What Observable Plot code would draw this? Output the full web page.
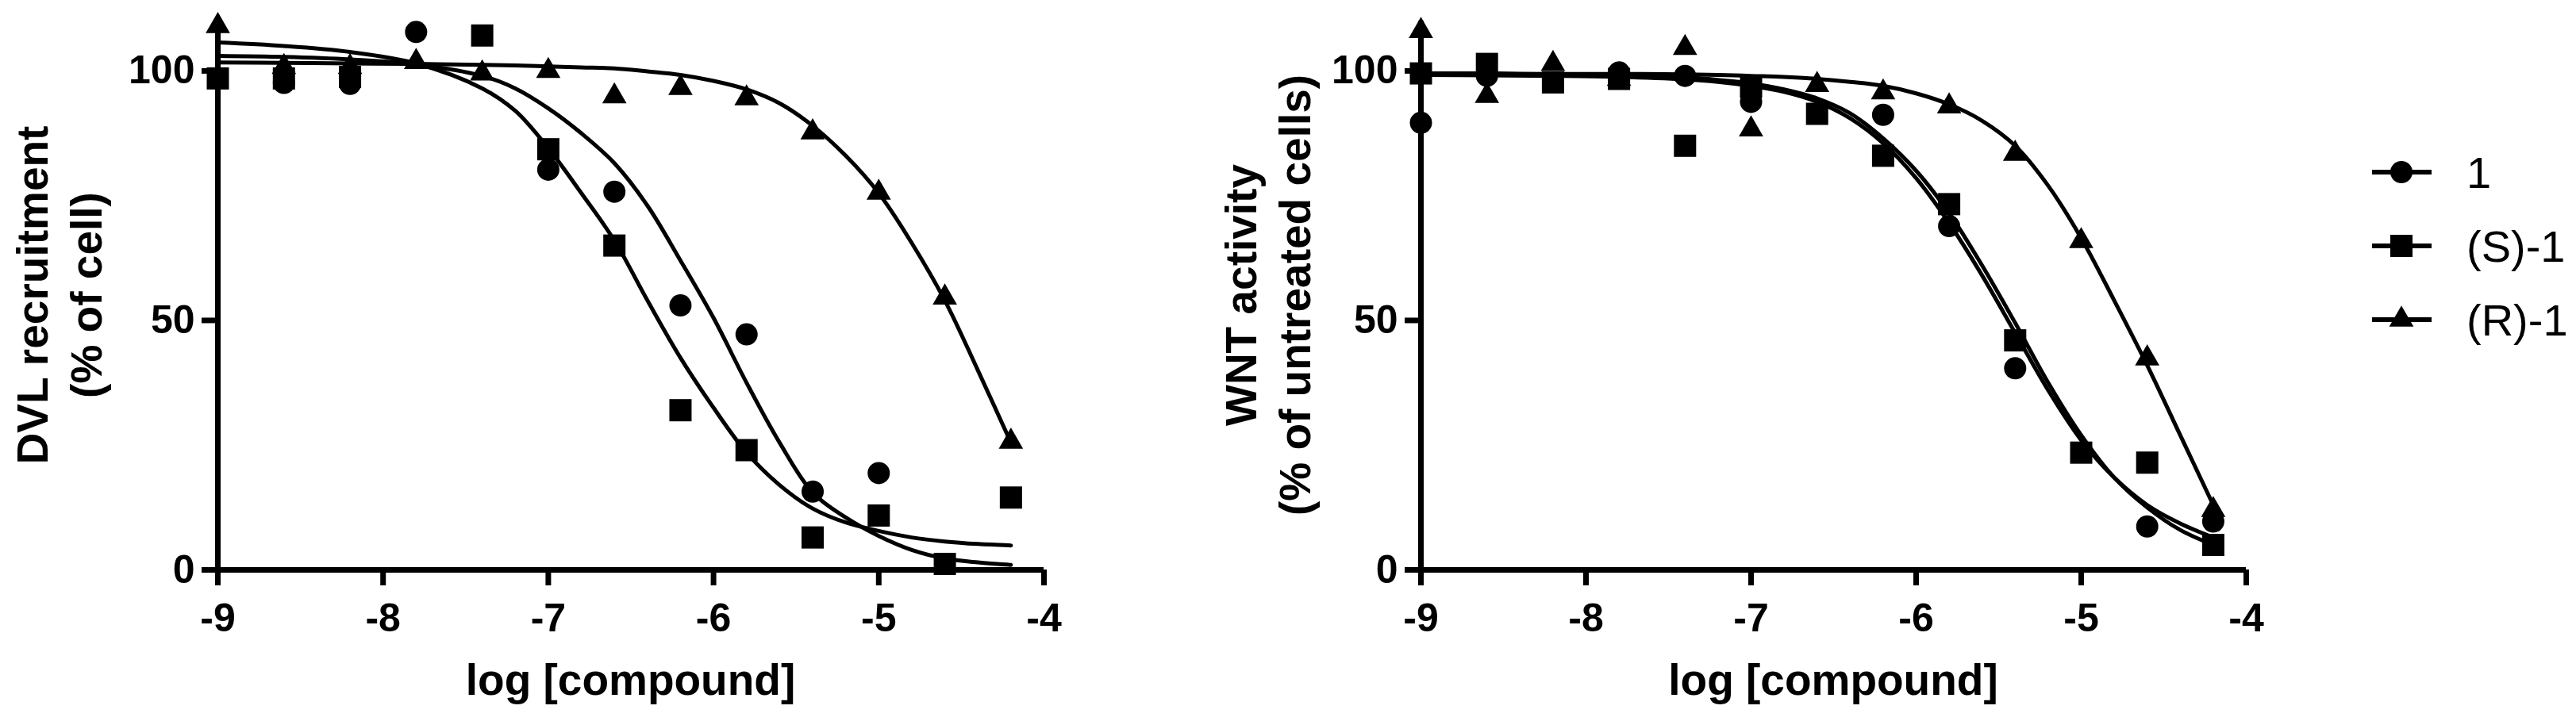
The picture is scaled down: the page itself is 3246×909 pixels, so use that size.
<!DOCTYPE html>
<html><head><meta charset="utf-8">
<script src="https://cdn.jsdelivr.net/npm/d3@7"></script>
<script src="https://cdn.jsdelivr.net/npm/@observablehq/plot@0.6"></script>
<style>
html,body{margin:0;padding:0;background:#fff;}
#root{position:relative;width:3246px;height:909px;overflow:hidden;background:#fff;font-family:"Liberation Sans",Arial,sans-serif;}
#root > svg{position:absolute;top:0;}
#root text{fill:#000;}
</style></head><body><div id="root"></div>
<script>
// ---------- data ----------
const logConc = [-9, -8.6, -8.2, -7.8, -7.4, -7, -6.6, -6.2, -5.8, -5.4, -5, -4.6, -4.2];
const seriesNames = ["1", "(S)-1", "(R)-1"];
const xTicks = [-9, -8, -7, -6, -5, -4];
const yTicks = [0, 50, 100];

// DVL recruitment (% of cell) - measured points (null = hidden / not visible)
const dvl_1  = [null, 97.6, 97.4, 107.8, null, 80.2, 75.8, 53.0, 47.2, 15.7, 19.4, null, null];
const dvl_S1 = [98.5, 98.5, 98.8, null, 107.1, 84.3, 65.0, 32.0, 24.0, 6.5, 10.9, 1.2, 14.5];
const dvl_R1 = [109.0, 100.8, 100.8, 101.8, 99.5, 100.0, 94.9, 96.6, 94.5, 87.7, 75.6, 54.6, 25.7];

// WNT activity (% of untreated cells) - measured points
const wnt_1  = [89.6, 99.0, null, 99.7, 99.0, 93.8, null, 91.2, 68.9, 40.4, null, 8.7, 9.7];
const wnt_S1 = [99.5, 101.4, 97.7, 98.4, 85.0, 96.8, 91.4, 83.0, 73.3, 46.0, 23.5, 21.5, 5.0];
const wnt_R1 = [108.0, 95.0, 101.4, 98.4, 104.6, 88.3, 97.2, 95.7, 92.9, 83.4, 65.9, 42.4, 12.0];

// fitted curves
const fitX = [-9, -8.6, -8.2, -7.8, -7.4, -7.2, -7, -6.8, -6.6, -6.4, -6.2, -6, -5.8, -5.6, -5.4, -5.2, -5, -4.8, -4.6, -4.4, -4.2];
const dvlFit_1  = [103, 102.8, 102.3, 101.3, 99, 96.5, 92.5, 87.5, 81.5, 73, 62, 50.5, 37.5, 25.5, 15.5, 10.5, 6.8, 4, 2.3, 1.5, 1];
const dvlFit_S1 = [105.7, 105, 103.8, 101.5, 96.5, 92, 84.5, 75.5, 66, 54, 42.5, 32.5, 23.5, 17, 12.3, 9.5, 7.8, 6.5, 5.7, 5.2, 4.9];
const dvlFit_R1 = [101.7, 101.6, 101.5, 101.4, 101.2, 101.1, 100.9, 100.7, 100.5, 99.9, 99.2, 98, 96.3, 93.5, 89, 83, 75.5, 65.5, 54, 40, 25.5];
const wntFit_1  = [99.2, 99.1, 99, 98.8, 98.3, 97.8, 97, 95.8, 93.8, 90.5, 85.5, 78.5, 69.5, 59, 47.5, 36, 26, 18.5, 13, 9.3, 6.5];
const wntFit_S1 = [99.5, 99.4, 99.3, 99.1, 98.7, 98.2, 97.5, 96.3, 94.5, 91.5, 86.5, 80, 71.5, 61, 49.5, 37.5, 27, 18.5, 12.5, 8, 5];
const wntFit_R1 = [99.5, 99.5, 99.4, 99.4, 99.3, 99.2, 99, 98.8, 98.4, 97.8, 97, 95.5, 93.3, 90, 85, 77, 66.5, 54, 41, 27, 13];

// ---------- build ----------
const FONT = '"Liberation Sans", Arial, sans-serif';
const symbolOf = {"1": "circle", "(S)-1": "square", "(R)-1": "triangle"};
const rOf = {"1": 14, "(S)-1": 15.8, "(R)-1": 11.4};

function rowsPts(arrs) {
  const rows = [];
  arrs.forEach((arr, k) => arr.forEach((v, i) => { if (v != null) rows.push({x: logConc[i], y: v, s: seriesNames[k]}); }));
  return rows;
}
function rowsFit(arrs) {
  const rows = [];
  arrs.forEach((arr, k) => arr.forEach((v, i) => rows.push({x: fitX[i], y: v, s: seriesNames[k]})));
  return rows;
}

function panel({pts, fits, width, marginLeft, marginRight, left, titleLines, titleX}) {
  const ptRows = rowsPts(pts);
  const fitRows = rowsFit(fits);
  const svg = Plot.plot({
    width, height: 909,
    marginLeft, marginRight, marginTop: 26, marginBottom: 191,
    x: {domain: [-9, -4]},
    y: {domain: [0, 110]},
    style: {fontFamily: FONT, background: "transparent", overflow: "visible", color: "black"},
    marks: [
      Plot.axisY(yTicks, {tickSize: 20, tickPadding: 9, strokeWidth: 7, fontSize: 50, fontWeight: "bold", label: null, tickFormat: d => String(d)}),
      Plot.axisX(xTicks, {tickSize: 20, tickPadding: 22, strokeWidth: 7, fontSize: 50, fontWeight: "bold", label: null, tickFormat: d => String(d)}),
      Plot.ruleY([0], {x1: -9, x2: -4, stroke: "black", strokeWidth: 7}),
      Plot.ruleX([-9], {y1: 0, y2: 110, stroke: "black", strokeWidth: 7}),
      Plot.line(fitRows, {x: "x", y: "y", z: "s", stroke: "black", strokeWidth: 5, curve: "catmull-rom"}),
      ...seriesNames.map(n => Plot.dot(ptRows.filter(d => d.s === n), {x: "x", y: "y", symbol: symbolOf[n], r: rOf[n], fill: "black", stroke: "none"}))
    ]
  });
  svg.style.left = left + "px";
  const s = d3.select(svg);
  // x-axis title
  s.append("text").attr("x", titleX).attr("y", 876).attr("text-anchor", "middle")
    .attr("font-size", 55).attr("font-weight", "bold").attr("font-family", FONT).text("log [compound]");
  // y-axis title (two lines)
  titleLines.forEach(([txt, bx]) => {
    s.append("text").attr("transform", `translate(${bx},372) rotate(-90)`).attr("text-anchor", "middle")
      .attr("font-size", 55).attr("font-weight", "bold").attr("font-family", FONT).text(txt);
  });
  return svg;
}

const root = document.getElementById("root");
root.appendChild(panel({
  pts: [dvl_1, dvl_S1, dvl_R1], fits: [dvlFit_1, dvlFit_S1, dvlFit_R1],
  width: 1400, marginLeft: 274, marginRight: 85, left: 0,
  titleLines: [["DVL recruitment", 60], ["(% of cell)", 128]], titleX: 794.5
}));
root.appendChild(panel({
  pts: [wnt_1, wnt_S1, wnt_R1], fits: [wntFit_1, wntFit_S1, wntFit_R1],
  width: 1450, marginLeft: 340, marginRight: 70, left: 1450,
  titleLines: [["WNT activity", 133], ["(% of untreated cells)", 201]], titleX: 860
}));

// legend
const leg = d3.select(root).append("svg").attr("width", 296).attr("height", 909).style("left", "2950px");
const legY = [217, 310, 403];
seriesNames.forEach((n, i) => {
  const g = leg.append("g").attr("transform", `translate(0,${legY[i]})`);
  g.append("line").attr("x1", 39).attr("x2", 114).attr("y1", 0).attr("y2", 0).attr("stroke", "black").attr("stroke-width", 6);
  const sym = {circle: d3.symbolCircle, square: d3.symbolSquare, triangle: d3.symbolTriangle}[symbolOf[n]];
  g.append("path").attr("transform", "translate(76,0)").attr("d", d3.symbol(sym, Math.PI * rOf[n] * rOf[n])()).attr("fill", "black");
  g.append("text").attr("x", 158).attr("y", 0).attr("dy", "0.36em").attr("font-size", 56).attr("font-family", FONT).text(n);
});
</script></body></html>
